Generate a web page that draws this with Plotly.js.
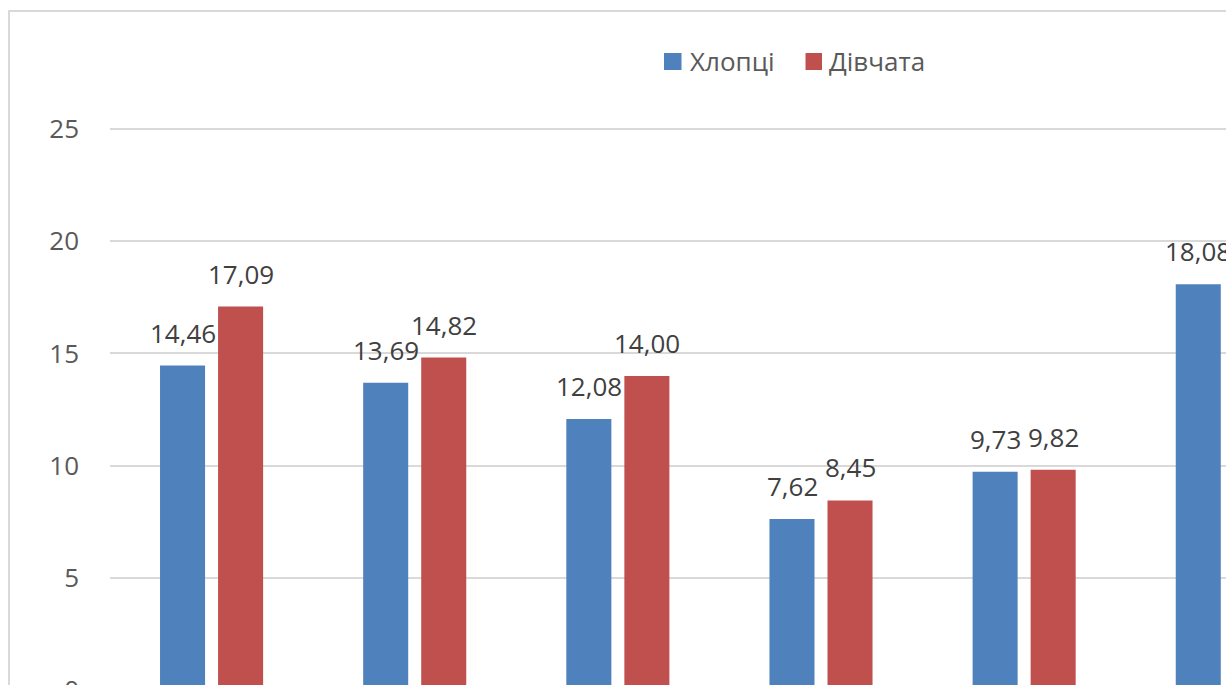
<!DOCTYPE html>
<html>
<head>
<meta charset="utf-8">
<script src="https://cdn.plot.ly/plotly-3.0.1.min.js"></script>
<style>
  html, body { margin: 0; padding: 0; overflow: hidden; background: #ffffff; }
  #chart { position: absolute; left: 0; top: 0; width: 1600px; height: 760px; }
</style>
</head>
<body>
<div id="chart"></div>
<script>
// Category labels (groups along the x axis)
const categories = ['Група 1', 'Група 2', 'Група 3', 'Група 4', 'Група 5', 'Група 6'];
// Series values
const boys  = [14.46, 13.69, 12.08, 7.62, 9.73, 18.08];
const girls = [17.09, 14.82, 14.00, 8.45, 9.82, null];
// Y axis ticks
const yTicks = [0, 5, 10, 15, 20, 25];

const seriesNames = ['Хлопці', 'Дівчата'];
const colors = ['#4F81BD', '#C0504D'];

const fmt = v => v.toFixed(2).replace('.', ',');

const traces = [boys, girls].map((vals, i) => ({
  type: 'bar',
  name: seriesNames[i],
  x: categories,
  y: vals,
  marker: { color: colors[i], line: { width: 0 } },
  showlegend: false,
  hoverinfo: 'skip'
}));

// value labels above each bar
const annotations = [];
[boys, girls].forEach((vals, s) => {
  vals.forEach((v, k) => {
    if (v === null) return;
    annotations.push({
      x: categories[k], y: v, xref: 'x', yref: 'y',
      text: fmt(v), showarrow: false,
      xanchor: 'center', yanchor: 'bottom',
      xshift: s === 0 ? -29 : 29, yshift: 13,
      font: { family: 'Open Sans', size: 26, color: '#404040' }
    });
  });
});

// legend at the top: colour square + series name
const legendKeys = [
  { x0: 0.38959, x1: 0.40190, tx: 0.40612 },
  { x0: 0.48910, x1: 0.50070, tx: 0.50457 }
];
const shapes = [{
  type: 'rect', xref: 'paper', yref: 'paper',
  x0: -0.07103, x1: 1.2, y0: -0.3, y1: 1.2082,
  line: { color: '#D9D9D9', width: 2 }, fillcolor: 'rgba(0,0,0,0)', layer: 'below'
}];
legendKeys.forEach((k, i) => {
  shapes.push({
    type: 'rect', xref: 'paper', yref: 'paper',
    x0: k.x0, x1: k.x1, y0: 1.10320, y1: 1.13345,
    line: { width: 0 }, fillcolor: colors[i]
  });
  annotations.push({
    xref: 'paper', yref: 'paper', x: k.tx, y: 1.11833,
    xanchor: 'left', yanchor: 'middle', showarrow: false,
    text: seriesNames[i],
    font: { family: 'Open Sans', size: 26, color: '#595959' }
  });
});

const layout = {
  width: 1600, height: 760,
  margin: { l: 110, r: 68, t: 128, b: 70, pad: 0 },
  paper_bgcolor: '#ffffff', plot_bgcolor: '#ffffff',
  barmode: 'group', bargap: 0.4286, bargroupgap: 0.224,
  font: { family: 'Open Sans', size: 26, color: '#595959' },
  xaxis: {
    type: 'category', range: [-0.5, 6.5],
    showgrid: false, zeroline: false, showline: false,
    ticks: '', showticklabels: false, fixedrange: true
  },
  yaxis: {
    range: [0, 25.05], tickvals: yTicks, ticktext: yTicks.map(String),
    showgrid: true, gridcolor: '#D9D9D9', gridwidth: 2,
    zeroline: false, showline: false, ticks: '',
    ticklabelstandoff: 30,
    tickfont: { family: 'Open Sans', size: 26, color: '#595959' }
  },
  showlegend: false,
  shapes: shapes,
  annotations: annotations
};

Plotly.newPlot('chart', traces, layout, { staticPlot: true, displayModeBar: false });
</script>
</body>
</html>
